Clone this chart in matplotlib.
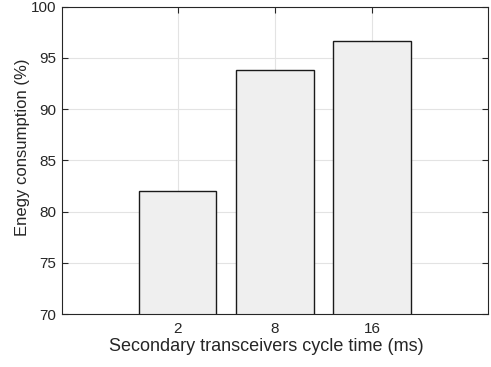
import matplotlib
matplotlib.use("Agg")
import matplotlib.pyplot as plt

categories = ["2", "8", "16"]
values = [82.0, 93.8, 96.7]
yticks = [70, 75, 80, 85, 90, 95, 100]

plt.rcParams['font.family'] = ['Liberation Sans', 'DejaVu Sans']
dark = '#262626'

fig = plt.figure(figsize=(4.91, 3.67), dpi=100)
ax = fig.add_axes([0.1257, 0.1444, 0.8682, 0.8373])
pos = list(range(1, len(categories) + 1))
ax.bar(pos, values, width=0.8, bottom=0, color='#efefef', edgecolor='#1a1a1a', linewidth=1.0, zorder=3)
ax.set_xlim(-0.19, 4.19)
ax.set_ylim(70, 100)
ax.set_xticks(pos)
ax.set_xticklabels(categories)
ax.set_yticks(yticks)
ax.grid(True, color='#e3e3e3', linewidth=0.8, zorder=0)
ax.set_axisbelow(True)
ax.tick_params(direction='in', top=True, right=True, length=4, width=0.8, colors=dark, labelsize=11)
ax.tick_params(axis='x', pad=6)
ax.tick_params(axis='y', pad=4)
for s in ax.spines.values():
    s.set_color(dark)
    s.set_linewidth(0.8)
    s.set_zorder(4)
ax.set_xlabel("Secondary transceivers cycle time (ms)", fontsize=13, color=dark)
ax.set_ylabel("Enegy consumption (%)", fontsize=12, color=dark)
ax.xaxis.set_label_coords(0.48, -0.077)
ax.yaxis.set_label_coords(-0.074, 0.542)
fig.savefig("out.png", dpi=100)
